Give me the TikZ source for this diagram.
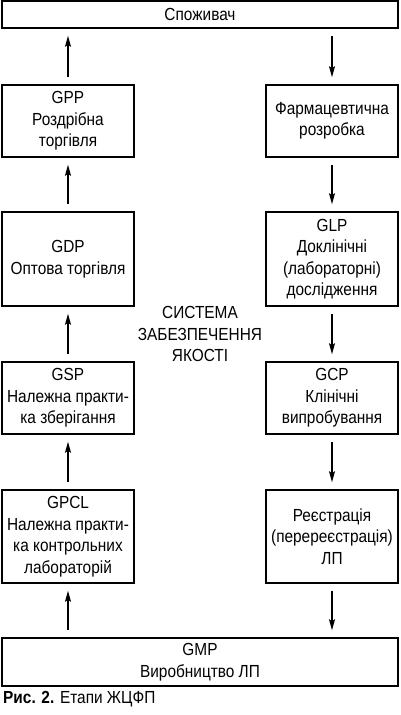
\documentclass[tikz,border=0pt]{standalone}
\usepackage{fontspec}
\setmainfont[FakeStretch=0.88]{Liberation Sans}
\usetikzlibrary{arrows.meta}
\begin{document}
\begin{tikzpicture}[x=1pt,y=-1pt,
  box/.style={draw,line width=1.6pt,inner sep=0pt,align=center,
    font=\fontsize{17.5}{21.5}\selectfont},
  colbox/.style={box,minimum width=132pt},
  flow/.style={line width=1.2pt,-{Stealth[length=11pt,width=6pt,inset=2pt]},
    shorten <=7pt,shorten >=7pt}]
\useasboundingbox (0,0) rectangle (400,715);
\node[box,minimum width=396pt,minimum height=27pt] (cons) at (200,14.5) {Споживач};
\node[colbox,minimum height=72pt] (gpp) at (68,121) {GPP\\Роздрібна\\торгівля};
\node[colbox,minimum height=72pt] (farm) at (332,121) {Фармацевтична\\розробка};
\node[colbox,minimum height=94pt] (gdp) at (68,259) {GDP\\Оптова торгівля};
\node[colbox,minimum height=94pt] (glp) at (332,259) {GLP\\Доклінічні\\(лабораторні)\\дослідження};
\node[colbox,minimum height=72pt] (gsp) at (68,398) {GSP\\Належна практи-\\ка зберігання};
\node[colbox,minimum height=72pt] (gcp) at (332,398) {GCP\\Клінічні\\випробування};
\node[colbox,minimum height=93pt] (gpcl) at (68,536.5) {GPCL\\Належна практи-\\ка контрольних\\лабораторій};
\node[colbox,minimum height=93pt] (reg) at (332,536.5) {Реєстрація\\(перереєстрація)\\ЛП};
\node[box,minimum width=396pt,minimum height=48pt] (gmp) at (200,662) {GMP\\Виробництво ЛП};
\node[align=center,inner sep=0pt,font=\fontsize{17.5}{21.5}\selectfont] (qs) at (200,334) {СИСТЕМА\\ЗАБЕЗПЕЧЕННЯ\\ЯКОСТІ};
\node[anchor=west,inner sep=0pt,font=\fontsize{17.5}{18}\selectfont] (cap) at (3,699) {\textbf{Рис. 2.} Етапи ЖЦФП};
\draw[flow] (gpp) -- (cons.south -| gpp);
\draw[flow] (gdp) -- (gpp);
\draw[flow] (gsp) -- (gdp);
\draw[flow] (gpcl) -- (gsp);
\draw[flow] (gmp.north -| gpcl) -- (gpcl);
\draw[flow] (cons.south -| farm) -- (farm);
\draw[flow] (farm) -- (glp);
\draw[flow] (glp) -- (gcp);
\draw[flow] (gcp) -- (reg);
\draw[flow] (reg) -- (gmp.north -| reg);
\end{tikzpicture}
\end{document}
